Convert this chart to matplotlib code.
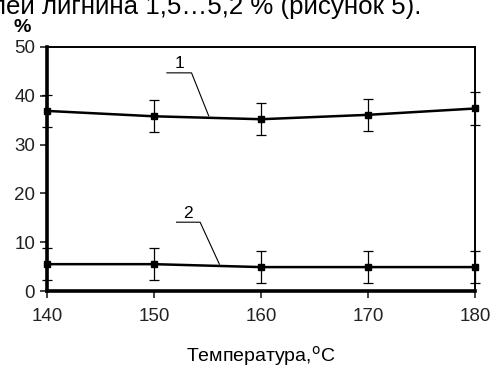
import matplotlib

matplotlib.use("Agg")
import matplotlib.pyplot as plt

plt.rcParams["font.family"] = ["Liberation Sans", "DejaVu Sans"]

temp = [140, 150, 160, 170, 180]
curve1 = [36.9, 35.8, 35.2, 36.1, 37.4]
err1 = [3.3, 3.3, 3.3, 3.3, 3.3]
curve2 = [5.5, 5.5, 4.9, 4.9, 4.9]
err2 = [3.3, 3.3, 3.3, 3.3, 3.3]
yticks = [0, 10, 20, 30, 40, 50]
xticks = [140, 150, 160, 170, 180]

fig = plt.figure(figsize=(4.95, 3.7), dpi=100)
ax = fig.add_axes([0.095, 0.2135, 0.865, 0.6595])

for ys, es in ((curve1, err1), (curve2, err2)):
    ax.errorbar(temp, ys, yerr=es, color="black", lw=1.8, marker="s", ms=4.5,
                elinewidth=0.9, capsize=3.5, capthick=0.9, clip_on=False, zorder=3)

# leader lines with curve numbers
ax.plot([151.2, 153.5, 155.1], [44.7, 44.7, 35.9], color="black", lw=0.8)
ax.text(152.4, 45.0, "1", fontsize=12.5, ha="center", va="bottom")
ax.plot([152.1, 154.3, 156.1], [14.1, 14.1, 5.5], color="black", lw=0.8)
ax.text(153.2, 14.4, "2", fontsize=12.5, ha="center", va="bottom")

ax.set_xlim(140, 180)
ax.set_ylim(0, 50)
ax.set_xticks(xticks)
ax.set_yticks(yticks)
ax.tick_params(labelsize=13.5, length=5, width=1.2, direction="out", colors="#222222")
ax.tick_params(axis="x", pad=7)
for side in ("left", "bottom"):
    ax.spines[side].set_linewidth(2.6)
for side in ("top", "right"):
    ax.spines[side].set_linewidth(1.4)

ax.set_xlabel("Температура,$^{\\mathrm{o}}$C", fontsize=14, labelpad=14)
fig.text(0.045, 0.903, "%", fontsize=14, fontweight="bold", ha="center", va="bottom")
# fragment of the surrounding document text, cut by the top edge
fig.text(-0.018, 0.963, "лей лигнина 1,5…5,2 % (рисунок 5).", fontsize=18.6,
         ha="left", va="baseline")

fig.savefig("out.png", dpi=100)
